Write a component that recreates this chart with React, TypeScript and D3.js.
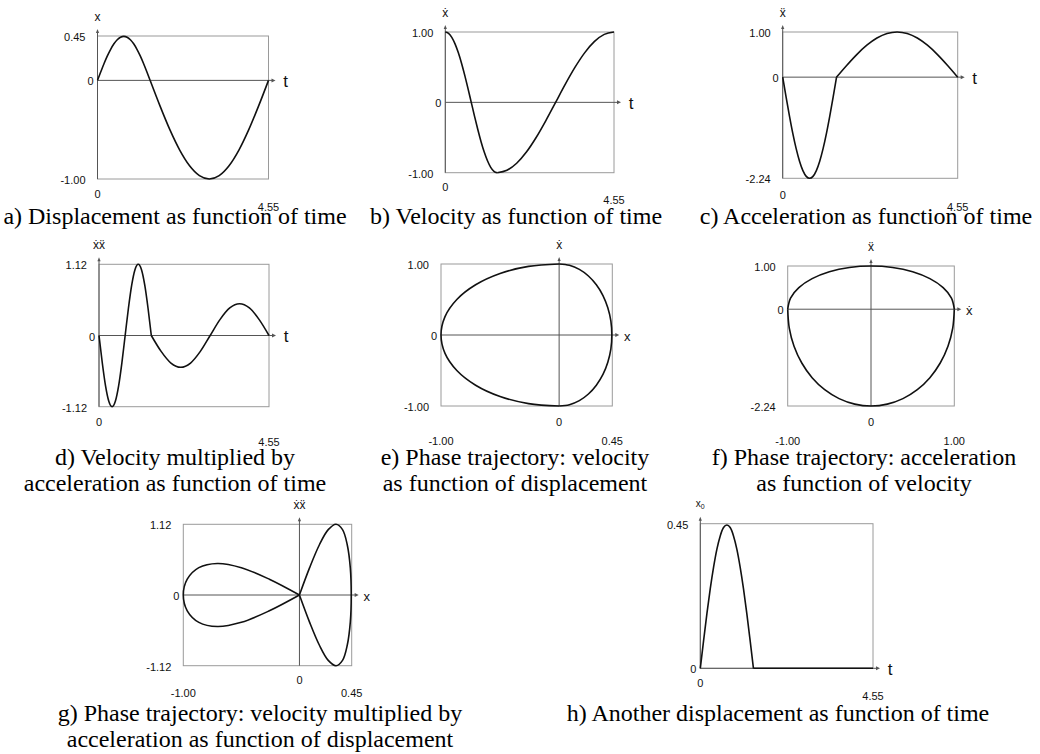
import React from "react";
import * as d3 from "d3";

// ---- data ----
const timeValues = [0, 0.0875, 0.175, 0.2625, 0.35, 0.4375, 0.525, 0.6125, 0.7, 0.7875, 0.875, 0.9625, 1.05, 1.1375, 1.225, 1.3125, 1.4, 1.6625, 1.925, 2.1875, 2.45, 2.7125, 2.975, 3.2375, 3.5, 3.7625, 4.025, 4.2875, 4.55];
const displacementValues = [0, 0.087, 0.171, 0.248, 0.315, 0.371, 0.412, 0.438, 0.446, 0.438, 0.412, 0.371, 0.315, 0.248, 0.171, 0.087, 0, -0.259, -0.5, -0.707, -0.866, -0.966, -1, -0.966, -0.866, -0.707, -0.5, -0.259, 0];
const velocityValues = [1, 0.981, 0.924, 0.831, 0.707, 0.556, 0.383, 0.195, 0, -0.195, -0.383, -0.556, -0.707, -0.831, -0.924, -0.981, -1, -0.966, -0.866, -0.707, -0.5, -0.259, 0, 0.259, 0.5, 0.707, 0.866, 0.966, 1];
const accelerationValues = [0, -0.437, -0.857, -1.245, -1.584, -1.862, -2.069, -2.197, -2.24, -2.197, -2.069, -1.862, -1.584, -1.245, -0.857, -0.437, 0, 0.259, 0.5, 0.707, 0.866, 0.966, 1, 0.966, 0.866, 0.707, 0.5, 0.259, 0];
const velocityAccelerationValues = [0, -0.429, -0.792, -1.035, -1.12, -1.035, -0.792, -0.429, 0, 0.429, 0.792, 1.035, 1.12, 1.035, 0.792, 0.429, 0, -0.25, -0.433, -0.5, -0.433, -0.25, 0, 0.25, 0.433, 0.5, 0.433, 0.25, 0];
const anotherDisplacementValues = [0, 0.087, 0.171, 0.248, 0.315, 0.371, 0.412, 0.438, 0.446, 0.438, 0.412, 0.371, 0.315, 0.248, 0.171, 0.087, 0, 0, 0, 0, 0, 0, 0, 0, 0, 0, 0, 0, 0];
const switchTime = 1.4;

const timeDomain = [0, 4.55];
const displacementDomain = [-1.0, 0.45];
const velocityDomain = [-1.0, 1.0];
const accelerationDomain = [-2.24, 1.0];
const velocityAccelerationDomain = [-1.12, 1.12];
const anotherDisplacementDomain = [0, 0.45];

const captionA = ["a) Displacement as function of time"];
const captionB = ["b) Velocity as function of time"];
const captionC = ["c) Acceleration as function of time"];
const captionD = ["d) Velocity multiplied by", "acceleration as function of time"];
const captionE = ["e) Phase trajectory: velocity", "as function of displacement"];
const captionF = ["f) Phase trajectory: acceleration", "as function of velocity"];
const captionG = ["g) Phase trajectory: velocity multiplied by", "acceleration as function of displacement"];
const captionH = ["h) Another displacement as function of time"];

const series: Record<string, number[]> = {
  t: timeValues,
  x: displacementValues,
  v: velocityValues,
  a: accelerationValues,
  va: velocityAccelerationValues,
  x0: anotherDisplacementValues,
};

// ---- layout ----
type Box = { x0: number; x1: number; y0: number; y1: number };
type PanelCfg = {
  kind: "time" | "phase";
  box: Box;
  xKey: string;
  yKey: string;
  xDomain: number[];
  yDomain: number[];
  yLabel: string;
  xLabel: string;
  xTickDy: number[];
  caption: string[];
  capX: number;
  capY: number;
};

const panels: PanelCfg[] = [
  { kind: "time", box: { x0: 97.5, x1: 268.5, y0: 36, y1: 179 }, xKey: "t", yKey: "x", xDomain: timeDomain, yDomain: displacementDomain, yLabel: "x", xLabel: "t", xTickDy: [15, 28], caption: captionA, capX: 175, capY: 224 },
  { kind: "time", box: { x0: 445.3, x1: 614, y0: 32, y1: 172.7 }, xKey: "t", yKey: "v", xDomain: timeDomain, yDomain: velocityDomain, yLabel: "ẋ", xLabel: "t", xTickDy: [14.5, 27.5], caption: captionB, capX: 516, capY: 224 },
  { kind: "time", box: { x0: 782.7, x1: 957.7, y0: 32, y1: 178.3 }, xKey: "t", yKey: "a", xDomain: timeDomain, yDomain: accelerationDomain, yLabel: "ẍ", xLabel: "t", xTickDy: [16.5, 29], caption: captionC, capX: 866, capY: 224 },
  { kind: "time", box: { x0: 99, x1: 269, y0: 264.3, y1: 406.7 }, xKey: "t", yKey: "va", xDomain: timeDomain, yDomain: velocityAccelerationDomain, yLabel: "ẋẍ", xLabel: "t", xTickDy: [15, 35], caption: captionD, capX: 175, capY: 465 },
  { kind: "phase", box: { x0: 441, x1: 612.3, y0: 264, y1: 406 }, xKey: "x", yKey: "v", xDomain: displacementDomain, yDomain: velocityDomain, yLabel: "ẋ", xLabel: "x", xTickDy: [15.5, 35], caption: captionE, capX: 515, capY: 465 },
  { kind: "phase", box: { x0: 787.7, x1: 954.3, y0: 266, y1: 406 }, xKey: "v", yKey: "a", xDomain: velocityDomain, yDomain: accelerationDomain, yLabel: "ẍ", xLabel: "ẋ", xTickDy: [15.5, 35], caption: captionF, capX: 864, capY: 465 },
  { kind: "phase", box: { x0: 183.3, x1: 351.7, y0: 524.3, y1: 665.7 }, xKey: "x", yKey: "va", xDomain: displacementDomain, yDomain: velocityAccelerationDomain, yLabel: "ẋẍ", xLabel: "x", xTickDy: [14.5, 27], caption: captionG, capX: 260, capY: 721 },
  { kind: "time", box: { x0: 700.3, x1: 873, y0: 523.7, y1: 668.3 }, xKey: "t", yKey: "x0", xDomain: timeDomain, yDomain: anotherDisplacementDomain, yLabel: "x0", xLabel: "t", xTickDy: [14.5, 27.5], caption: captionH, capX: 778, capY: 721 },
];

const fmt = d3.formatLocale({ decimal: ".", thousands: ",", grouping: [3], currency: ["", ""], minus: "-" }).format(".2f");
const tickText = (v: number) => (v === 0 ? "0" : fmt(v));

const SANS = "'Liberation Sans', Arial, Helvetica, sans-serif";
const SERIF = "'Liberation Serif', 'Times New Roman', serif";
const BOX = "#9a9a9a";
const AXIS = "#555";

function Panel({ p }: { p: PanelCfg }) {
  const { box } = p;
  const xs = d3.scaleLinear().domain(p.xDomain).range([box.x0, box.x1]);
  const ys = d3.scaleLinear().domain(p.yDomain).range([box.y1, box.y0]);
  const xv = series[p.xKey];
  const yv = series[p.yKey];
  const pts = timeValues.map((t, i) => ({ t, x: xv[i], y: yv[i] }));
  const seg1 = pts.filter((d) => d.t <= switchTime);
  const seg2 = pts.filter((d) => d.t >= switchTime);
  const line = d3
    .line<{ t: number; x: number; y: number }>()
    .x((d) => xs(d.x))
    .y((d) => ys(d.y))
    .curve(p.kind === "time" ? d3.curveMonotoneX : d3.curveCatmullRom.alpha(0.5));

  const zx = xs(0);
  const zy = ys(0);
  const axisRight = box.x1 + 7;
  const axisTop = box.y0 - 7;
  const yTicks: { v: number; y: number; dx: number }[] = [];
  yTicks.push({ v: p.yDomain[1], y: ys(p.yDomain[1]), dx: 12 });
  if (p.yDomain[0] !== 0) yTicks.push({ v: p.yDomain[0], y: ys(p.yDomain[0]), dx: 12 });
  yTicks.push({ v: 0, y: zy, dx: 4 });

  const xTicks: { v: number; x: number; dy: number }[] = [];
  if (p.kind === "time") {
    xTicks.push({ v: p.xDomain[0], x: xs(p.xDomain[0]), dy: p.xTickDy[0] });
    xTicks.push({ v: p.xDomain[1], x: xs(p.xDomain[1]), dy: p.xTickDy[1] });
  } else {
    xTicks.push({ v: 0, x: zx, dy: p.xTickDy[0] });
    xTicks.push({ v: p.xDomain[0], x: xs(p.xDomain[0]), dy: p.xTickDy[1] });
    xTicks.push({ v: p.xDomain[1], x: xs(p.xDomain[1]), dy: p.xTickDy[1] });
  }

  const isT = p.xLabel === "t";
  return (
    <g>
      <rect x={box.x0} y={box.y0} width={box.x1 - box.x0} height={box.y1 - box.y0} fill="none" stroke={BOX} strokeWidth={1} />
      {/* horizontal axis */}
      <line x1={box.x0} x2={axisRight - 3} y1={zy} y2={zy} stroke={AXIS} strokeWidth={1} />
      <path d={`M${axisRight},${zy} l-4,-2 l0,4 z`} fill={AXIS} />
      {/* vertical axis */}
      <line x1={zx} x2={zx} y1={box.y1} y2={axisTop + 3} stroke={AXIS} strokeWidth={1} />
      <path d={`M${zx},${axisTop} l-1.6,4 l3.2,0 z`} fill={AXIS} />
      {/* curve */}
      <path d={line(seg1) || ""} fill="none" stroke="#111" strokeWidth={1.6} strokeLinejoin="round" />
      <path d={line(seg2) || ""} fill="none" stroke="#111" strokeWidth={1.6} strokeLinejoin="round" />
      {/* y tick labels */}
      {yTicks.map((t, i) => (
        <text key={"y" + i} x={box.x0 - t.dx} y={t.y + 1} textAnchor="end" dominantBaseline="central" fontFamily={SANS} fontSize={11} fill="#111">
          {tickText(t.v)}
        </text>
      ))}
      {/* x tick labels */}
      {xTicks.map((t, i) => (
        <text key={"x" + i} x={t.x} y={box.y1 + t.dy} textAnchor="middle" dominantBaseline="central" fontFamily={SANS} fontSize={11} fill="#111">
          {tickText(t.v)}
        </text>
      ))}
      {/* axis names */}
      <text x={axisRight + (isT ? 10 : 8)} y={zy + 1} textAnchor="middle" dominantBaseline="central" fontFamily={SANS} fontSize={isT ? 17 : 13} fill="#111">
        {p.xLabel}
      </text>
      {p.yLabel === "x0" ? (
        <text x={zx} y={box.y0 - 20} textAnchor="middle" dominantBaseline="central" fontFamily={SANS} fontSize={10} fill="#111">
          x<tspan fontSize={7} dy={2}>0</tspan>
        </text>
      ) : (
        <text x={zx} y={box.y0 - 19} textAnchor="middle" dominantBaseline="central" fontFamily={SANS} fontSize={12} fill="#111">
          {p.yLabel}
        </text>
      )}
      {/* caption */}
      {p.caption.map((c, i) => (
        <text key={"c" + i} x={p.capX} y={p.capY + i * 26} textAnchor="middle" fontFamily={SERIF} fontSize={24} fill="#000">
          {c}
        </text>
      ))}
    </g>
  );
}

export default function App() {
  return (
    <svg width={1040} height={754} style={{ position: "absolute", left: 0, top: 0, background: "#fff" }}>
      <rect x={0} y={0} width={1040} height={754} fill="#fff" />
      {panels.map((p, i) => (
        <Panel key={i} p={p} />
      ))}
    </svg>
  );
}
